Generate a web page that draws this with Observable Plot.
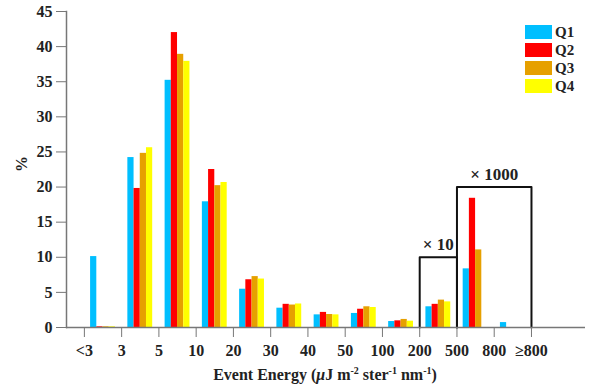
<!DOCTYPE html>
<html><head><meta charset="utf-8">
<script src="https://cdn.jsdelivr.net/npm/d3@7"></script>
<script src="https://cdn.jsdelivr.net/npm/@observablehq/plot@0.6"></script>
<style>
body{margin:0;background:#fff;}
#wrap{position:relative;width:590px;height:390px;font-family:"Liberation Serif","Times New Roman",serif;font-weight:bold;color:#222;}
#legend{position:absolute;left:525px;top:23px;}
.li{display:flex;align-items:center;height:18px;font-size:15px;}
.sw{width:27px;height:14px;margin-right:3px;}
#xtitle{position:absolute;left:0;width:650px;top:366px;text-align:center;font-size:16px;white-space:nowrap;}
#xtitle sup{font-size:10px;vertical-align:6px;line-height:0;}
#ytitle{position:absolute;left:14px;top:155px;font-size:16px;transform:rotate(-90deg);transform-origin:center;}
</style></head><body><div id="wrap"></div>
<script>
const tickLabels = ["<3","3","5","10","20","30","40","50","100","200","500","800","≥800"];
const groups = ["<3","3","5","10","20","30","40","50","100","200","500","800"];
const series = ["Q1","Q2","Q3","Q4"];
const colors = ["#00bfff","#ff0000","#e6a000","#ffff00"];
const q1 = [10.1,24.2,35.2,17.9,5.45,2.75,1.8,2.0,0.85,2.95,8.35,0.7];
const q2 = [0.1,19.8,42.0,22.5,6.8,3.3,2.15,2.6,0.95,3.3,18.4,0];
const q3 = [0.1,24.8,38.9,20.2,7.25,3.2,1.85,2.95,1.15,3.9,11.05,0];
const q4 = [0.1,25.6,37.9,20.65,6.9,3.35,1.8,2.85,0.9,3.65,0,0];
const boxes = [{from:"200",to:"500",top:10,label:"× 10"},{from:"500",to:"≥800",top:20,label:"× 1000"}];

const vals = [q1,q2,q3,q4];
const idx = l => tickLabels.indexOf(l);
const rows = [];
groups.forEach((g,gi)=>series.forEach((s,si)=>{
  rows.push({group:g,series:s,value:vals[si][gi],x1:idx(g)+(1+si)/6,x2:idx(g)+(2+si)/6});
}));
const boxPts = [];
boxes.forEach(b=>{
  const a=idx(b.from), c=idx(b.to);
  [[a,0],[a,b.top],[c,b.top],[c,0]].forEach(([x,y])=>boxPts.push({box:b.label,x,y}));
});
const boxLab = boxes.map(b=>({label:b.label,x:(idx(b.from)+idx(b.to))/2,y:b.top}));

const plot = Plot.plot({
  width:590,height:390,
  marginLeft:66,marginRight:5,marginTop:11,marginBottom:63,
  style:{fontFamily:'"Liberation Serif","Times New Roman",serif',fontWeight:"bold",fontSize:"15px",color:"#222",background:"#fff"},
  x:{domain:[-0.48,13.45],axis:null},
  y:{domain:[0,45],axis:null},
  color:{domain:series,range:colors},
  marks:[
    Plot.rectY(rows,{x1:"x1",x2:"x2",y1:0,y2:"value",fill:"series"}),
    Plot.line(boxPts,{x:"x",y:"y",z:"box",stroke:"#111",strokeWidth:2,strokeLinejoin:"round"}),
    Plot.text(boxLab,{x:"x",y:"y",text:"label",dy:-13,fontSize:17,fill:"#222"}),
    Plot.ruleY([0],{stroke:"#777",strokeWidth:1.5}),
    Plot.frame({anchor:"left",stroke:"#777",strokeWidth:1.5}),
    Plot.axisY({ticks:d3.range(0,46,5),tickSize:10,tickPadding:4,label:null,stroke:"#777",fontSize:16}),
    Plot.axisX({ticks:d3.range(0,13),tickFormat:i=>tickLabels[i],tickSize:10,tickPadding:7,label:null,stroke:"#777",fontSize:16})
  ]
});
const wrap=document.getElementById("wrap");
wrap.appendChild(plot);
const lg=document.createElement("div");lg.id="legend";
series.forEach((s,i)=>{const d=document.createElement("div");d.className="li";
  d.innerHTML=`<div class="sw" style="background:${colors[i]}"></div><span>${s}</span>`;lg.appendChild(d);});
wrap.appendChild(lg);
const xt=document.createElement("div");xt.id="xtitle";
xt.innerHTML='Event Energy (<i>μ</i>J m<sup>-2</sup> ster<sup>-1</sup> nm<sup>-1</sup>)';
wrap.appendChild(xt);
const yt=document.createElement("div");yt.id="ytitle";yt.textContent="%";wrap.appendChild(yt);
</script></body></html>
